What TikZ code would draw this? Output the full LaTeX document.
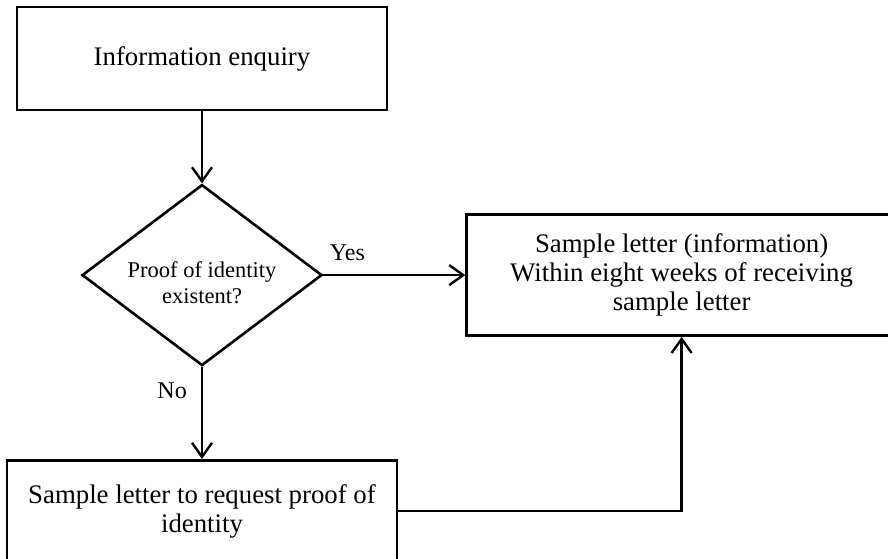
\documentclass[tikz,border=0pt]{standalone}
\usepackage{fontspec}
\setmainfont{Liberation Serif}
\usepackage{tikz}
\usetikzlibrary{arrows.meta,positioning,shapes.geometric}
\tikzset{
  every picture/.style={line width=2.4pt},
  stepbox/.style={
    draw=black,
    line width=2.6pt,
    align=center,
    font=\fontsize{26.8}{29}\selectfont,
    inner sep=0pt,
    fill=white
  },
  querybox/.style={stepbox, minimum width=370pt, minimum height=103pt},
  answerbox/.style={stepbox, minimum width=430pt, minimum height=121pt},
  letterbox/.style={stepbox, minimum width=390pt, minimum height=102pt},
  decision/.style={
    diamond,
    draw=black,
    line width=2.6pt,
    aspect=1.33,
    align=center,
    font=\fontsize{22.5}{26}\selectfont,
    minimum width=240pt,
    minimum height=181pt,
    inner sep=0pt
  },
  flowarrow/.style={-{Straight Barb[length=14pt,width=20pt]}, draw=black},
  tinylabel/.style={font=\fontsize{24}{28}\selectfont, inner sep=0pt}
}

\begin{document}
\begin{tikzpicture}[x=1pt, y=-1pt]
  \useasboundingbox (0,0) rectangle (888,559);

  \node[querybox] (enq) at (202,58.5) {Information enquiry};
  \node[decision, below=72pt of enq] (chk) {\rule{0pt}{31pt}Proof of identity\\existent?};
  \node[answerbox, right=142pt of chk] (ans) {Sample letter (information)\\Within eight weeks of receiving\\sample letter};
  \node[letterbox, below=92pt of chk] (req) {Sample letter to request proof of\\identity};

  \draw[flowarrow] (enq) -- (chk);
  \draw[flowarrow] (chk) -- node[tinylabel, pos=0.17, above=13pt] {Yes} (ans);
  \draw[flowarrow] (chk) -- node[tinylabel, pos=0.26, left=14pt] {No} (req);
  \draw[flowarrow] (req) -| (ans);
\end{tikzpicture}
\end{document}
